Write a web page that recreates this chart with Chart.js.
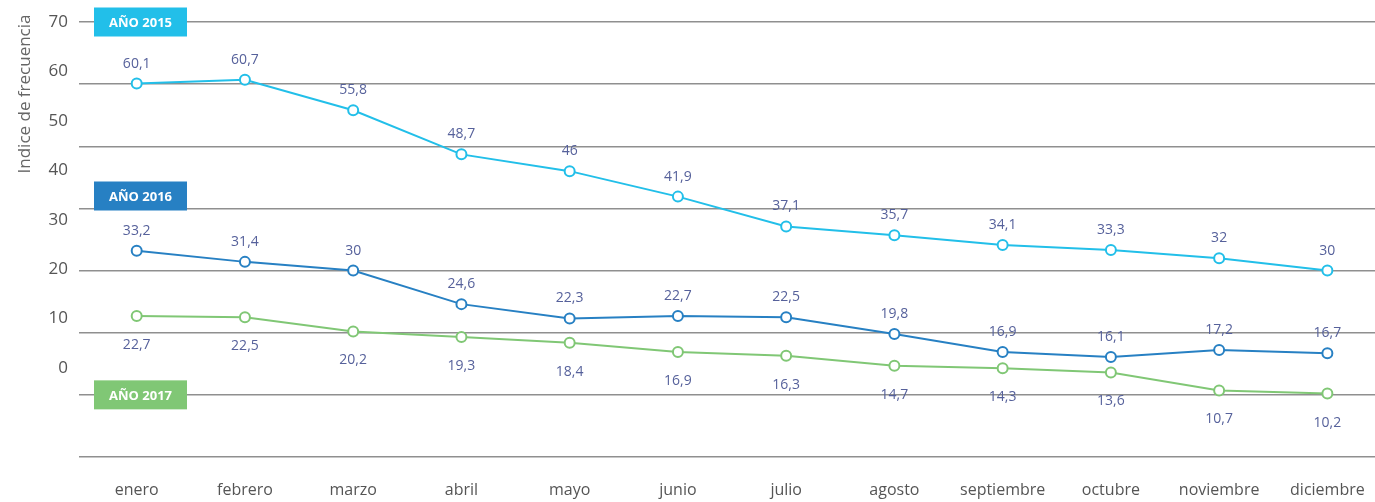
<!DOCTYPE html>
<html>
<head>
<meta charset="utf-8">
<script src="https://cdn.jsdelivr.net/npm/chart.js@4.4.1/dist/chart.umd.min.js"></script>
<style>
  html, body { margin: 0; padding: 0; background: #fff; overflow: hidden; }
  #wrap { width: 1375px; height: 502px; }
</style>
</head>
<body>
<div id="wrap"><canvas id="myChart"></canvas></div>
<script>
const months = ['enero', 'febrero', 'marzo', 'abril', 'mayo', 'junio', 'julio', 'agosto', 'septiembre', 'octubre', 'noviembre', 'diciembre'];
const y2015 = [60.1, 60.7, 55.8, 48.7, 46, 41.9, 37.1, 35.7, 34.1, 33.3, 32, 30];
const y2016 = [33.2, 31.4, 30, 24.6, 22.3, 22.7, 22.5, 19.8, 16.9, 16.1, 17.2, 16.7];
const y2017 = [22.7, 22.5, 20.2, 19.3, 18.4, 16.9, 16.3, 14.7, 14.3, 13.6, 10.7, 10.2];
const tickLabels = [0, 10, 20, 30, 40, 50, 60, 70];
const tagNames = ['AÑO 2015', 'AÑO 2016', 'AÑO 2017'];
const tagValues = [70, 42, 10]; // where each tag sits on the value scale
const colors = ['#22bfe9', '#2780c3', '#80c775'];
const labelPos = ['above', 'above', 'below'];

const FONT = "'Open Sans', sans-serif";
const fmt = v => String(v).replace('.', ',');

// etiquetas de valor junto a cada punto
const valueLabels = {
    id: 'valueLabels',
    afterDatasetsDraw(chart) {
        const ctx = chart.ctx;
        ctx.save();
        ctx.font = '14px ' + FONT;
        ctx.fillStyle = '#56619b';
        ctx.textAlign = 'center';
        ctx.textBaseline = 'middle';
        chart.data.datasets.forEach((ds, i) => {
            const meta = chart.getDatasetMeta(i);
            meta.data.forEach((pt, j) => {
                const dy = labelPos[i] === 'above' ? -20 : 29;
                ctx.fillText(fmt(ds.data[j].y), pt.x, pt.y + dy);
            });
        });
        ctx.restore();
    }
};

// recuadros de año y título del eje
const extras = {
    id: 'extras',
    afterDraw(chart) {
        const ctx = chart.ctx, area = chart.chartArea, y = chart.scales.y;
        ctx.save();
        tagNames.forEach((name, i) => {
            const cy = y.getPixelForValue(tagValues[i]);
            const left = area.left + 15;
            ctx.fillStyle = colors[i];
            ctx.fillRect(left, cy - 14.5, 93, 29);
            ctx.fillStyle = '#fff';
            ctx.font = 'bold 13px ' + FONT;
            ctx.textAlign = 'center';
            ctx.textBaseline = 'middle';
            ctx.fillText(name, left + 46.5, cy + 1);
        });
        ctx.translate(25, 94);
        ctx.rotate(-Math.PI / 2);
        ctx.fillStyle = '#666';
        ctx.font = '17px ' + FONT;
        ctx.textAlign = 'center';
        ctx.textBaseline = 'middle';
        ctx.fillText('Indice de frecuencia', 0, 0);
        ctx.restore();
    }
};

const mkSet = (label, values, i) => ({
    label: label,
    data: values.map((v, k) => ({ x: k, y: v })),
    xAxisID: 'x',
    yAxisID: 'y',
    borderColor: colors[i],
    borderWidth: 2,
    pointRadius: 5,
    pointBorderWidth: 2,
    pointBackgroundColor: '#fff',
    pointBorderColor: colors[i],
    tension: 0
});

new Chart(document.getElementById('myChart'), {
    type: 'line',
    data: {
        datasets: [
            mkSet('2015', y2015, 0),
            mkSet('2016', y2016, 1),
            mkSet('2017', y2017, 2)
        ]
    },
    options: {
        responsive: true,
        maintainAspectRatio: false,
        animation: false,
        layout: { autoPadding: false, padding: { top: 22, right: 0, bottom: 0, left: 0 } },
        plugins: { legend: { display: false }, tooltip: { enabled: false } },
        scales: {
            x: {
                type: 'linear',
                min: -0.533,
                max: 11.44,
                afterBuildTicks: axis => { axis.ticks = months.map((m, k) => ({ value: k })); },
                afterFit: axis => {
                    axis.height = 45;
                    axis.paddingLeft = 0;
                    axis.paddingRight = 0;
                },
                grid: { display: false, drawTicks: true, tickLength: 24 },
                border: { display: false },
                ticks: {
                    callback: v => months[v],
                    color: '#555',
                    font: { family: FONT, size: 16 },
                    padding: 0,
                    maxRotation: 0,
                    autoSkip: false
                }
            },
            yLabels: {
                position: 'left',
                min: -18,
                max: 70,
                afterBuildTicks: axis => { axis.ticks = tickLabels.map(v => ({ value: v })); },
                afterFit: axis => { axis.width = 79; },
                grid: { display: false, drawTicks: false },
                border: { display: false },
                ticks: {
                    color: '#555',
                    font: { family: FONT, size: 17 },
                    padding: 11
                }
            },
            y: {
                position: 'left',
                min: 0,
                max: 70,
                afterFit: axis => { axis.width = 0; },
                ticks: { display: false, stepSize: 10 },
                grid: { color: '#8f8f8f', lineWidth: 1.5, drawTicks: false },
                border: { display: false }
            }
        }
    },
    plugins: [valueLabels, extras]
});
</script>
</body>
</html>
